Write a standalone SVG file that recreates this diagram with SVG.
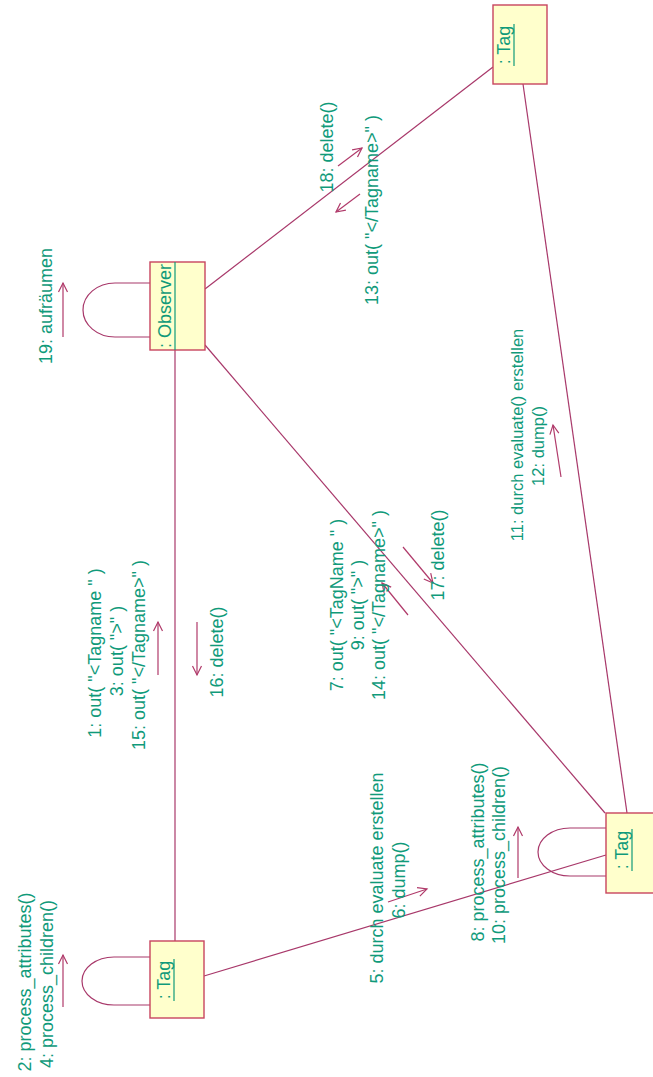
<svg xmlns="http://www.w3.org/2000/svg" width="653" height="1077" viewBox="0 0 653 1077">
  <style>
    .obj { fill: #ffffcc; stroke: #c8455e; stroke-width: 1.4; }
    .link { fill: none; stroke: #a8386a; stroke-width: 1.2; }
    .msg { fill: none; stroke: #b03a6a; stroke-width: 1.2; marker-end: url(#open); }
    .lbl { font-family: "Liberation Sans", Arial, sans-serif; font-size: 18px; fill: #109a7a; text-anchor: middle; }
    .small { font-size: 16.5px; }
    .ul { stroke: #109a7a; stroke-width: 1.2; }
  </style>
  <defs>
    <marker id="open" markerWidth="12" markerHeight="12" refX="10" refY="6" orient="auto" markerUnits="userSpaceOnUse">
      <path d="M1,1.5 L10,6 L1,10.5" fill="none" stroke="#b03a6a" stroke-width="1.2"/>
    </marker>
  </defs>
  <rect width="653" height="1077" fill="#ffffff"/>

  <!-- links between objects -->
  <g id="connectors">
    <line class="link" x1="175" y1="350" x2="175" y2="941"/>
    <line class="link" x1="205" y1="289" x2="493" y2="67"/>
    <line class="link" x1="205" y1="345" x2="605" y2="813"/>
    <line class="link" x1="523" y1="84" x2="627" y2="813"/>
    <line class="link" x1="204" y1="976" x2="606" y2="855"/>
    <!-- self links -->
    <path class="link" d="M150,283 H115 A32,27 0 0 0 115,337 H150"/>
    <path class="link" d="M150,957 H114 A32,24 0 0 0 114,1005 H150"/>
    <path class="link" d="M606,828 H570 A32,24 0 0 0 570,876 H606"/>
  </g>

  <!-- message arrows -->
  <g id="messages">
    <line class="msg" x1="63" y1="337" x2="63" y2="283"/>
    <line class="msg" x1="63" y1="1007" x2="63" y2="955"/>
    <line class="msg" x1="518" y1="878" x2="518" y2="827"/>
    <line class="msg" x1="158" y1="675" x2="158" y2="622"/>
    <line class="msg" x1="197" y1="622" x2="197" y2="675"/>
    <line class="msg" x1="338" y1="166" x2="362" y2="148"/>
    <line class="msg" x1="360" y1="194" x2="336" y2="212"/>
    <line class="msg" x1="403" y1="547" x2="433" y2="583"/>
    <line class="msg" x1="408" y1="615" x2="382" y2="583"/>
    <line class="msg" x1="561" y1="477" x2="553" y2="425"/>
    <line class="msg" x1="388" y1="902" x2="427" y2="889"/>
  </g>

  <!-- objects -->
  <g id="tag-top">
    <rect class="obj" x="493" y="5" width="54" height="79"/>
    <text class="lbl" transform="translate(510,45) rotate(-90)">: Tag</text>
    <line class="ul" x1="514" y1="66" x2="514" y2="24"/>
  </g>
  <g id="observer">
    <rect class="obj" x="150" y="262" width="55" height="88"/>
    <text class="lbl" transform="translate(171,306) rotate(-90)">: Observer</text>
    <line class="ul" x1="175" y1="262" x2="175" y2="350"/>
  </g>
  <g id="tag-left">
    <rect class="obj" x="150" y="941" width="54" height="77"/>
    <text class="lbl" transform="translate(170,980) rotate(-90)">: Tag</text>
    <line class="ul" x1="174" y1="1001" x2="174" y2="959"/>
  </g>
  <g id="tag-right">
    <rect class="obj" x="606" y="813" width="55" height="80"/>
    <text class="lbl" transform="translate(628,850) rotate(-90)">: Tag</text>
    <line class="ul" x1="632" y1="871" x2="632" y2="829"/>
  </g>

  <!-- message labels -->
  <g id="labels">
    <text class="lbl" transform="translate(52,306) rotate(-90)">19: aufräumen</text>
    <text class="lbl" transform="translate(31,982) rotate(-90)">2: process_attributes()</text>
    <text class="lbl" transform="translate(53,984) rotate(-90)">4: process_children()</text>
    <text class="lbl" transform="translate(101,653) rotate(-90)">1: out( "&lt;Tagname " )</text>
    <text class="lbl" transform="translate(123,651) rotate(-90)">3: out( "&gt;" )</text>
    <text class="lbl" transform="translate(145,655) rotate(-90)">15: out( "&lt;/Tagname&gt;" )</text>
    <text class="lbl" transform="translate(223,652) rotate(-90)">16: delete()</text>
    <text class="lbl" transform="translate(333,147) rotate(-90)">18: delete()</text>
    <text class="lbl" transform="translate(378,210) rotate(-90)">13: out( "&lt;/Tagname&gt;" )</text>
    <text class="lbl" transform="translate(343,605) rotate(-90)">7: out( "&lt;TagName " )</text>
    <text class="lbl" transform="translate(364,605) rotate(-90)">9: out( "&gt;" )</text>
    <text class="lbl" transform="translate(385,605) rotate(-90)">14: out( "&lt;/Tagname&gt;" )</text>
    <text class="lbl" transform="translate(444,555) rotate(-90)">17: delete()</text>
    <text class="lbl small" transform="translate(523,435) rotate(-90)">11: durch evaluate() erstellen</text>
    <text class="lbl small" transform="translate(544,446) rotate(-90)">12: dump()</text>
    <text class="lbl" transform="translate(383,878) rotate(-90)">5: durch evaluate erstellen</text>
    <text class="lbl" transform="translate(405,880) rotate(-90)">6: dump()</text>
    <text class="lbl" transform="translate(484,852) rotate(-90)">8: process_attributes()</text>
    <text class="lbl" transform="translate(505,855) rotate(-90)">10: process_children()</text>
  </g>
</svg>
